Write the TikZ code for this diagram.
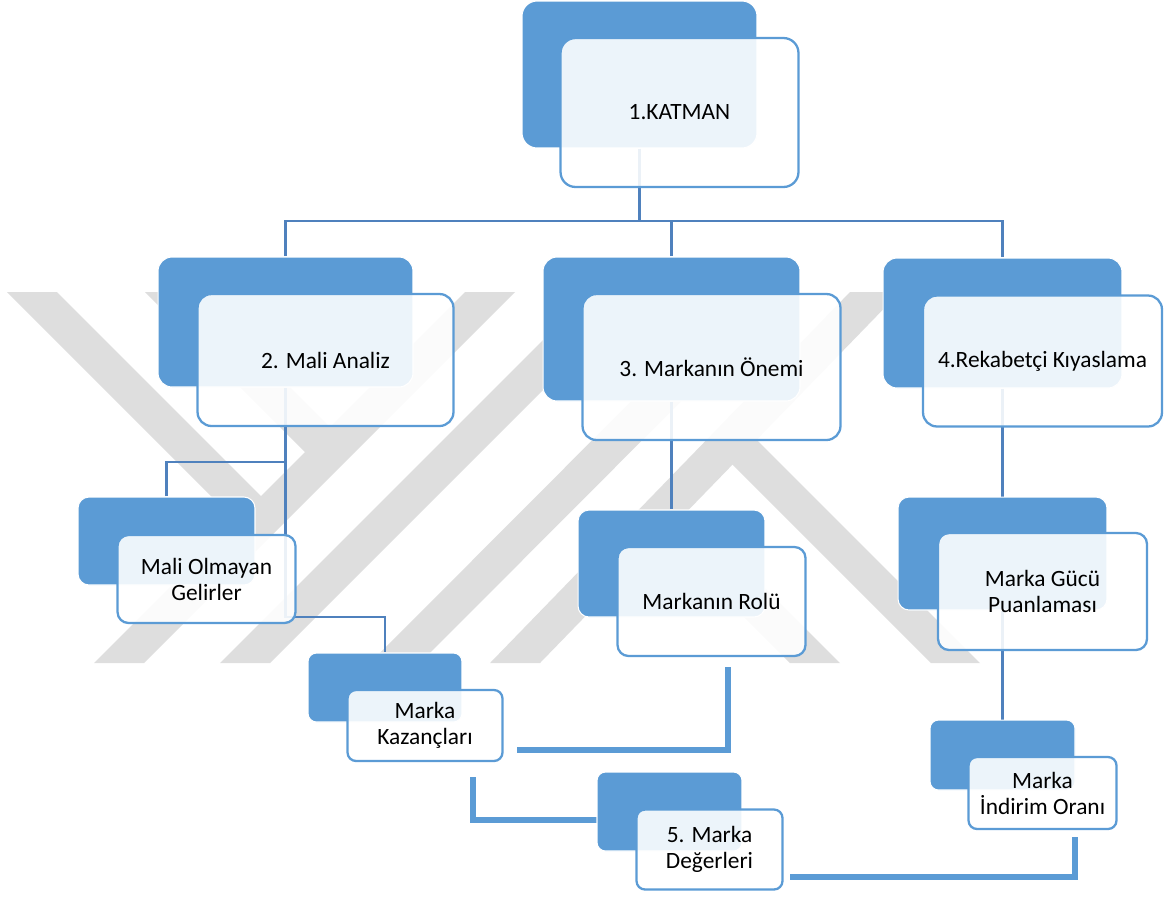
\documentclass[tikz,border=0pt]{standalone}
\usepackage{fontspec}
\setmainfont{Carlito}
\usepackage{tikz}
\usetikzlibrary{positioning, calc, backgrounds}
\definecolor{boxBlue}{RGB}{91,155,213}
\definecolor{linkBlue}{RGB}{79,129,189}
\definecolor{wmGray}{RGB}{222,222,222}
\pgfdeclarelayer{watermark}
\pgfdeclarelayer{links}
\pgfsetlayers{watermark,links,main}

\begin{document}
\begin{tikzpicture}[
    x=0.02cm, y=-0.02cm,
    back/.style={rectangle, fill=boxBlue, draw=white, line width=0.6pt, rounded corners=0.22cm, inner sep=0pt},
    front/.style={rectangle, fill=white, fill opacity=0.89, text opacity=1, draw=boxBlue, line width=1.3pt, rounded corners=0.22cm, inner sep=0pt, align=center, font=\fontsize{13.3}{14.8}\selectfont},
    link/.style={draw=linkBlue, line width=1.5pt},
    heavy/.style={draw=boxBlue, line width=3.2pt},
    wm/.style={fill=wmGray}
]
\useasboundingbox (0,0) rectangle (1165,897);

% Nodes
\node[back, rounded corners=0.3cm, minimum width=4.70cm, minimum height=2.94cm] (n1b) at (639.5,74.5) {};
\node[front, rounded corners=0.3cm, minimum width=4.76cm, minimum height=2.98cm] (n1) at ($(n1b)+(40,38)$) {1.KATMAN};

\node[back, rounded corners=0.28cm, minimum width=5.10cm, minimum height=2.60cm] (n2b) at (285.5,322) {};
\node[front, rounded corners=0.28cm, minimum width=5.12cm, minimum height=2.64cm] (n2) at ($(n2b)+(40,38)$) {2. Mali Analiz};

\node[back, rounded corners=0.28cm, minimum width=5.14cm, minimum height=2.88cm] (n3b) at (671.5,329) {};
\node[front, rounded corners=0.28cm, minimum width=5.16cm, minimum height=2.92cm] (n3) at ($(n3b)+(40,38)$) {3. Markanın Önemi};

\node[back, rounded corners=0.28cm, minimum width=4.78cm, minimum height=2.60cm] (n4b) at (1002.5,323) {};
\node[front, rounded corners=0.28cm, minimum width=4.78cm, minimum height=2.62cm] (n4) at ($(n4b)+(40,38)$) {4.Rekabetçi Kıyaslama};

\node[back, minimum width=3.54cm, minimum height=1.76cm] (n5b) at (166.5,541) {};
\node[front, minimum width=3.56cm, minimum height=1.76cm] (n5) at ($(n5b)+(40,38)$) {Mali Olmayan\\Gelirler};

\node[back, rounded corners=0.17cm, minimum width=3.08cm, minimum height=1.38cm] (n6b) at (385,687.5) {};
\node[front, rounded corners=0.17cm, minimum width=3.10cm, minimum height=1.42cm] (n6) at ($(n6b)+(40,38)$) {Marka\\Kazançları};

\node[back, minimum width=3.74cm, minimum height=2.14cm] (n7b) at (671.5,563.5) {};
\node[front, minimum width=3.76cm, minimum height=2.18cm] (n7) at ($(n7b)+(40,38)$) {Markanın Rolü};

\node[back, minimum width=4.18cm, minimum height=2.26cm] (n8b) at (1002.5,553.5) {};
\node[front, minimum width=4.18cm, minimum height=2.34cm] (n8) at ($(n8b)+(40,38)$) {Marka Gücü\\Puanlaması};

\node[back, rounded corners=0.17cm, minimum width=2.90cm, minimum height=1.40cm] (n9b) at (1002.5,755) {};
\node[front, rounded corners=0.17cm, minimum width=2.96cm, minimum height=1.44cm] (n9) at ($(n9b)+(40,38)$) {Marka\\İndirim Oranı};

\node[back, rounded corners=0.17cm, minimum width=2.90cm, minimum height=1.58cm] (n10b) at (669.5,811.5) {};
\node[front, rounded corners=0.17cm, minimum width=2.92cm, minimum height=1.60cm] (n10) at ($(n10b)+(40,38)$) {5. Marka\\Değerleri};

% Connectors
\coordinate (bus) at (0,221);
\coordinate (fork2) at (0,462);
\coordinate (fork6) at (0,617);
\coordinate (kz-out) at (473,777);
\coordinate (dg-in) at (597,820);
\coordinate (rl-out) at (728,667);
\coordinate (kz-in) at (517,750);
\coordinate (ir-out) at (1075,837);
\coordinate (dg-in2) at (790,877);

\begin{pgfonlayer}{links}
\draw[link] (n1b.south) -- (n1b.south |- bus);
\draw[link] (n2b.north) |- (bus -| n4b.north) -- (n4b.north);
\draw[link] (n3b.north) -- (n3b.north |- bus);
\draw[link] (n2b.south) -- (n2b.south |- fork6) -| (n6b.north);
\draw[link] (n5b.north) |- (n2b.south |- fork2);
\draw[link] (n3b.south) -- (n7b.north);
\draw[link] (n4b.south) -- (n8b.north);
\draw[link] (n8b.south) -- (n9b.north);

\draw[heavy] (kz-out) |- (dg-in);
\draw[heavy] (rl-out) |- (kz-in);
\draw[heavy] (ir-out) |- (dg-in2);
\end{pgfonlayer}

% Background
\begin{pgfonlayer}{watermark}
\fill[wm] (7,292) -- (57,292) -- (286,521) -- (236,521) -- cycle;
\fill[wm] (145,292) -- (195,292) -- (355,452) -- (305,452) -- cycle;
\fill[wm] (465,292) -- (515,292) -- (144,663) -- (94,663) -- cycle;
\fill[wm] (591,292) -- (641,292) -- (270,663) -- (220,663) -- cycle;
\fill[wm] (740,292) -- (790,292) -- (420,663) -- (370,663) -- cycle;
\fill[wm] (850,292) -- (900,292) -- (540,663) -- (490,663) -- cycle;
\fill[wm] (790,663) -- (840,663) -- (687,510) -- (637,510) -- cycle;
\fill[wm] (931,663) -- (980,663) -- (757,440) -- (708,440) -- cycle;
\end{pgfonlayer}
\end{tikzpicture}
\end{document}
